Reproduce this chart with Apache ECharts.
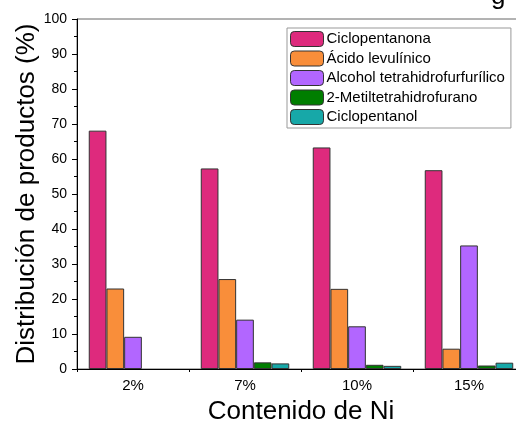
<!DOCTYPE html>
<html>
<head>
<meta charset="utf-8">
<script src="https://cdn.jsdelivr.net/npm/echarts@6/dist/echarts.min.js"></script>
<style>
  html, body { margin: 0; padding: 0; background: #fff; }
  #chart { width: 516px; height: 423px; }
</style>
</head>
<body>
<div id="chart"></div>
<script>
const categories = ['2%', '7%', '10%', '15%']
const seriesNames = ['Ciclopentanona', 'Ácido levulínico', 'Alcohol tetrahidrofurfurílico', '2-Metiltetrahidrofurano', 'Ciclopentanol']
const ciclopentanona = [68.1, 57.3, 63.3, 56.8]
const acidoLevulinico = [23.0, 25.7, 22.9, 5.8]
const alcoholTHF = [9.2, 14.1, 12.2, 35.3]
const metilTHF = [null, 1.9, 1.2, 1.0]
const ciclopentanol = [null, 1.6, 0.9, 1.8]
const colors = ['#de2a7d', '#f98e3a', '#b266ff', '#007e00', '#17a8a8']

const font = 'Liberation Sans, Arial, sans-serif'
const chart = echarts.init(document.getElementById('chart'))

const values = [ciclopentanona, acidoLevulinico, alcoholTHF, metilTHF, ciclopentanol]

chart.setOption({
  animation: false,
  textStyle: { fontFamily: font },
  grid: {
    left: 77, right: -9, top: 19, bottom: 54,
    outerBoundsMode: 'none',
    containLabel: false,
    show: true, borderColor: '#666', borderWidth: 1
  },
  legend: {
    orient: 'vertical',
    left: 287, top: 28,
    itemWidth: 33, itemHeight: 15, itemGap: 3.5,
    padding: [3, 6, 3, 3],
    borderColor: '#999', borderWidth: 1,
    textStyle: { fontFamily: font, fontSize: 15, color: '#000', padding: [0, 0, 0, -2] },
    data: seriesNames.map((n) => ({ name: n, itemStyle: { borderColor: '#333', borderWidth: 1 } }))
  },
  graphic: [
    { type: 'text', left: 491, top: -16, style: { text: 'g', font: '26px ' + font, fill: '#000' } }
  ],
  xAxis: [
    {
      type: 'category',
      data: categories,
      name: 'Contenido de Ni',
      nameLocation: 'middle',
      nameGap: 30,
      nameMoveOverlap: false,
      nameTextStyle: { fontSize: 26, color: '#000', fontFamily: font },
      axisLine: { lineStyle: { color: '#000', width: 1 } },
      axisTick: { alignWithLabel: true, length: 5, lineStyle: { color: '#000' } },
      axisLabel: { fontSize: 15, color: '#000', margin: 9, fontFamily: font }
    },
    {
      type: 'category',
      data: categories,
      position: 'bottom',
      axisLine: { show: false },
      axisTick: { show: true, length: 3, lineStyle: { color: '#000' } },
      axisLabel: { show: false }
    }
  ],
  yAxis: {
    type: 'value',
    min: 0, max: 100, interval: 10,
    name: 'Distribución de productos (%)',
    nameLocation: 'middle',
    nameGap: 37,
    nameMoveOverlap: false,
    nameTextStyle: { fontSize: 26, color: '#000', fontFamily: font },
    axisLine: { show: true, lineStyle: { color: '#000', width: 1 } },
    axisTick: { show: true, length: 5, lineStyle: { color: '#000' } },
    minorTick: { show: true, splitNumber: 2, length: 3, lineStyle: { color: '#000' } },
    splitLine: { show: false },
    axisLabel: { fontSize: 14, color: '#000', margin: 10, fontFamily: font }
  },
  series: seriesNames.map((n, i) => ({
    name: n,
    type: 'bar',
    data: values[i],
    barGap: '0%',
    barCategoryGap: '21%',
    itemStyle: { color: colors[i], borderColor: '#333', borderWidth: 1 }
  }))
})
</script>
</body>
</html>
